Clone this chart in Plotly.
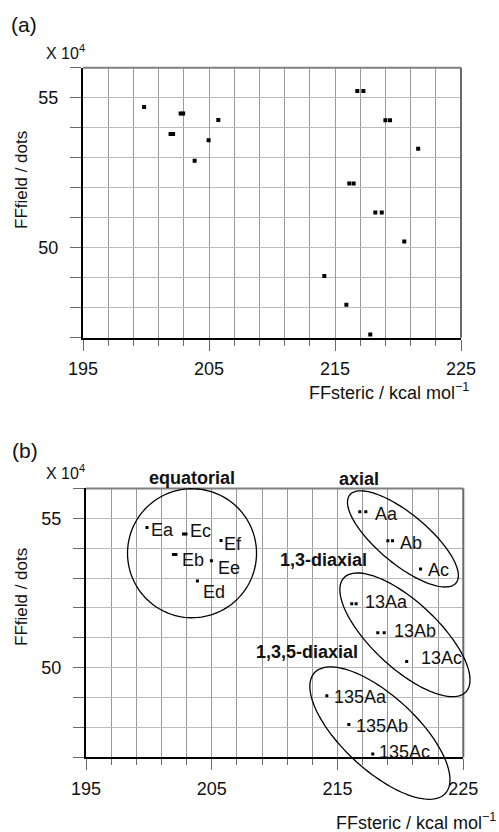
import numpy as np
import plotly.graph_objects as go

# ---------------- data ----------------
labels = ["Ea", "Eb", "Ec", "Ed", "Ee", "Ef",
          "Aa", "Ab", "Ac", "13Aa", "13Ab", "13Ac", "135Aa", "135Ab", "135Ac"]
# FFsteric (kcal/mol) of the first and (where present) second conformer
ff_steric_1 = [199.85, 201.95, 202.75, 203.86, 204.97, 205.74,
               216.77, 219.00, 221.60, 216.13, 218.20, 220.50, 214.15, 215.90, 217.80]
ff_steric_2 = [None, 202.15, 202.95, None, None, None,
               217.25, 219.37, None, 216.48, 218.71, None, None, None, None]
# FFfield (x 10^4 dots)
ff_field = [54.69, 53.79, 54.47, 52.90, 53.58, 54.26,
            55.22, 54.25, 53.30, 52.14, 51.17, 50.21, 49.06, 48.10, 47.11]

x_range = [195, 225]
y_range = [47, 56]
x_tick_vals = [195, 205, 215, 225]
y_tick_vals = [50, 55]

group_titles = ["equatorial", "axial", "1,3-diaxial", "1,3,5-diaxial"]

# ---------------- styles / layout ----------------
W, H = 499, 832
FONT = "Liberation Sans, Arial, sans-serif"

PA = dict(l=83, r=461, t=67.7, b=337.7)
PB = dict(l=86, r=463.3, t=488.4, b=757.3)


def dom_x(p):
    return [p["l"] / W, p["r"] / W]


def dom_y(p):
    return [1 - p["b"] / H, 1 - p["t"] / H]


label_shift = {
    "Ea": (2, -2), "Eb": (4, -6), "Ec": (2, 3), "Ed": (4, -11), "Ee": (5, -7), "Ef": (1, -4),
    "Aa": (7, -2), "Ab": (6, -2), "Ac": (5, -1),
    "13Aa": (7, 2), "13Ab": (8, 2), "13Ac": (12, 3),
    "135Aa": (5, -1), "135Ab": (5, -2), "135Ac": (4, 2),
}

outlines = [
    dict(cx=203.43, cy=53.83, a=64.5, b=64.5, ang=0),
    dict(cx=220.20, cy=54.31, a=69, b=25, ang=39.7),
    dict(cx=220.36, cy=51.10, a=83.5, b=33, ang=43),
    dict(cx=218.37, cy=47.81, a=89, b=37, ang=42.7),
]
title_pos = [(192, 478), (359, 479), (323, 560), (307, 652)]

xs_all, ys_all = [], []
for x1, x2, y in zip(ff_steric_1, ff_steric_2, ff_field):
    xs_all.append(x1)
    ys_all.append(y)
    if x2 is not None:
        xs_all.append(x2)
        ys_all.append(y)

fig = go.Figure()
fig.add_trace(go.Scatter(x=xs_all, y=ys_all, mode="markers", xaxis="x", yaxis="y",
                         marker=dict(symbol="square", size=4, color="black"),
                         showlegend=False, hoverinfo="skip"))
fig.add_trace(go.Scatter(x=xs_all, y=ys_all, mode="markers", xaxis="x2", yaxis="y2",
                         marker=dict(symbol="square", size=3, color="black"),
                         showlegend=False, hoverinfo="skip"))

TICKC = "dimgrey"
GRIDX = "#999999"
GRIDY = "#bbbbbb"


def xaxis(p, anchor):
    return dict(domain=dom_x(p), anchor=anchor, range=x_range, tickmode="array",
                tickvals=x_tick_vals, ticks="outside", ticklen=11, tickwidth=1, tickcolor=TICKC,
                showline=True, linecolor="black", linewidth=2, showgrid=True,
                gridcolor=GRIDX, gridwidth=1, zeroline=False, automargin=False,
                ticklabelstandoff=3,
                tickfont=dict(family=FONT, size=18, color="#111"),
                minor=dict(tick0=195, dtick=2, ticks="outside", ticklen=6, tickwidth=1,
                           tickcolor=TICKC, showgrid=True, gridcolor=GRIDX, gridwidth=1))


def yaxis(p, anchor):
    return dict(domain=dom_y(p), anchor=anchor, range=y_range, tickmode="array",
                tickvals=y_tick_vals, ticks="outside", ticklen=11, tickwidth=1, tickcolor=TICKC,
                showline=True, linecolor="black", linewidth=2, showgrid=True,
                gridcolor=GRIDY, gridwidth=1, zeroline=False, automargin=False,
                ticklabelstandoff=8,
                tickfont=dict(family=FONT, size=18, color="#111"),
                minor=dict(tick0=47, dtick=1, ticks="outside", ticklen=11, tickwidth=1,
                           tickcolor=TICKC, showgrid=True, gridcolor=GRIDY, gridwidth=1))


shapes = []
for xr, yr in [("x", "y"), ("x2", "y2")]:
    shapes.append(dict(type="line", xref=xr + " domain", yref=yr + " domain",
                       x0=0, x1=1, y0=1, y1=1, line=dict(color="grey", width=2)))
    shapes.append(dict(type="line", xref=xr + " domain", yref=yr + " domain",
                       x0=1, x1=1, y0=0, y1=1, line=dict(color="dimgrey", width=2)))

sx = (PB["r"] - PB["l"]) / (x_range[1] - x_range[0])
sy = (PB["b"] - PB["t"]) / (y_range[1] - y_range[0])
t = np.linspace(0, 2 * np.pi, 120)
for o in outlines:
    cxp = PB["l"] + (o["cx"] - x_range[0]) * sx
    cyp = PB["b"] - (o["cy"] - y_range[0]) * sy
    th = np.radians(o["ang"])
    px = cxp + o["a"] * np.cos(th) * np.cos(t) - o["b"] * np.sin(th) * np.sin(t)
    py = cyp + o["a"] * np.sin(th) * np.cos(t) + o["b"] * np.cos(th) * np.sin(t)
    path = "M " + " L ".join(f"{X / W:.5f},{1 - Y / H:.5f}" for X, Y in zip(px, py)) + " Z"
    shapes.append(dict(type="path", xref="paper", yref="paper", path=path,
                       line=dict(color="black", width=1.3)))

ann = []


def txt(text, xpx, ypx, size, xanchor="center", bold=False, angle=0):
    if bold:
        text = f"<b>{text}</b>"
    ann.append(dict(text=text, x=xpx / W, y=1 - ypx / H, xref="paper", yref="paper",
                    xanchor=xanchor, yanchor="middle", showarrow=False, textangle=angle,
                    font=dict(family=FONT, size=size, color="#111")))


txt("(a)", 9, 25, 21, "left")
txt("(b)", 10, 450, 21, "left")
txt("X 10<sup>4</sup>", 44, 52, 16, "left")
txt("X 10<sup>4</sup>", 44, 472, 16, "left")
txt("FFfield / dots", 21, 180, 17, angle=-90)
txt("FFfield / dots", 21, 597, 17, angle=-90)
txt("FFsteric / kcal mol<sup>−1</sup>", 471, 391, 18, "right")
txt("FFsteric / kcal mol<sup>−1</sup>", 498, 821, 18, "right")
for g, (gx, gy) in zip(group_titles, title_pos):
    txt(g, gx, gy, 18, bold=True)

for lab, x1, x2, y in zip(labels, ff_steric_1, ff_steric_2, ff_field):
    xa = x2 if x2 is not None else x1
    dx, dy = label_shift[lab]
    ann.append(dict(text=lab, x=xa, y=y, xref="x2", yref="y2", xanchor="left",
                    yanchor="middle", xshift=dx, yshift=dy, showarrow=False,
                    font=dict(family=FONT, size=18, color="#111")))

fig.update_layout(
    width=W, height=H, autosize=False, margin=dict(l=0, r=0, t=0, b=0, pad=0),
    paper_bgcolor="white", plot_bgcolor="white",
    xaxis=xaxis(PA, "y"), yaxis=yaxis(PA, "x"),
    xaxis2=xaxis(PB, "y2"), yaxis2=yaxis(PB, "x2"),
    shapes=shapes, annotations=ann, showlegend=False,
)

fig.write_html("out.html", config={"responsive": False})
